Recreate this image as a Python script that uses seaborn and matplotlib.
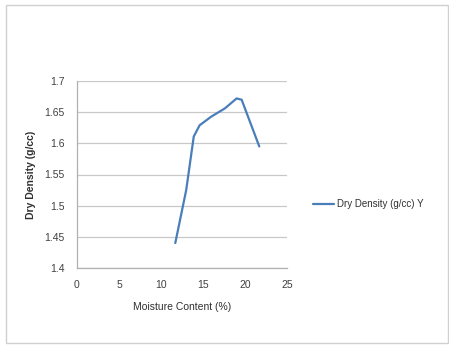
import matplotlib
matplotlib.use("Agg")
import matplotlib.pyplot as plt
import seaborn as sns
import pandas as pd
from matplotlib.patches import Rectangle

# Compaction test readings
moisture = [11.7, 13.0, 13.9, 14.6, 16.0, 17.6, 19.0, 19.6, 21.7]
dry_density = [1.440, 1.525, 1.611, 1.629, 1.643, 1.656, 1.672, 1.670, 1.595]

x_ticks = [0, 5, 10, 15, 20, 25]
y_ticks = [1.4, 1.45, 1.5, 1.55, 1.6, 1.65, 1.7]
y_tick_labels = ["1.4", "1.45", "1.5", "1.55", "1.6", "1.65", "1.7"]

df = pd.DataFrame({"Moisture Content (%)": moisture,
                   "Dry Density (g/cc) Y": dry_density})

sns.set_style("white")
plt.rcParams["font.family"] = ["Liberation Sans Narrow", "Liberation Sans", "DejaVu Sans"]

fig = plt.figure(figsize=(4.49, 3.46), dpi=100)
fig.patches.append(Rectangle((6 / 449, 0.01), 0.985, 0.975, transform=fig.transFigure,
                             fill=False, edgecolor="#d0d0d0", linewidth=1.0))
ax = fig.add_axes([77 / 449, 1 - 268 / 346, 210 / 449, 187 / 346])

sns.lineplot(data=df, x="Moisture Content (%)", y="Dry Density (g/cc) Y", ax=ax,
             color="#4a7ebb", linewidth=1.6, sort=False, label="Dry Density (g/cc) Y")

ax.set_xlim(0, 25)
ax.set_ylim(1.4, 1.7)
ax.set_xticks(x_ticks)
ax.set_yticks(y_ticks)
ax.set_yticklabels(y_tick_labels)
ax.tick_params(axis="both", labelsize=7.5, colors="#404040", length=3, width=0.8,
               color="#b0b0b0", direction="out", pad=6)
ax.grid(axis="y", color="#c8c8c8", linewidth=0.9)
ax.grid(axis="x", visible=False)
for side in ["top", "right"]:
    ax.spines[side].set_visible(False)
for side in ["left", "bottom"]:
    ax.spines[side].set_color("#b0b0b0")
    ax.spines[side].set_linewidth(0.9)

ax.set_xlabel("Moisture Content (%)", fontsize=7.5, color="#303030", labelpad=8)
ax.set_ylabel("Dry Density (g/cc)", fontsize=7.5, color="#303030", fontweight="bold", labelpad=6)

leg = ax.legend(loc="center left", bbox_to_anchor=(1.08, 0.34), frameon=False,
                fontsize=7, handlelength=2.2, handletextpad=0.3, labelcolor="#303030")

fig.savefig("out.png", dpi=100)
